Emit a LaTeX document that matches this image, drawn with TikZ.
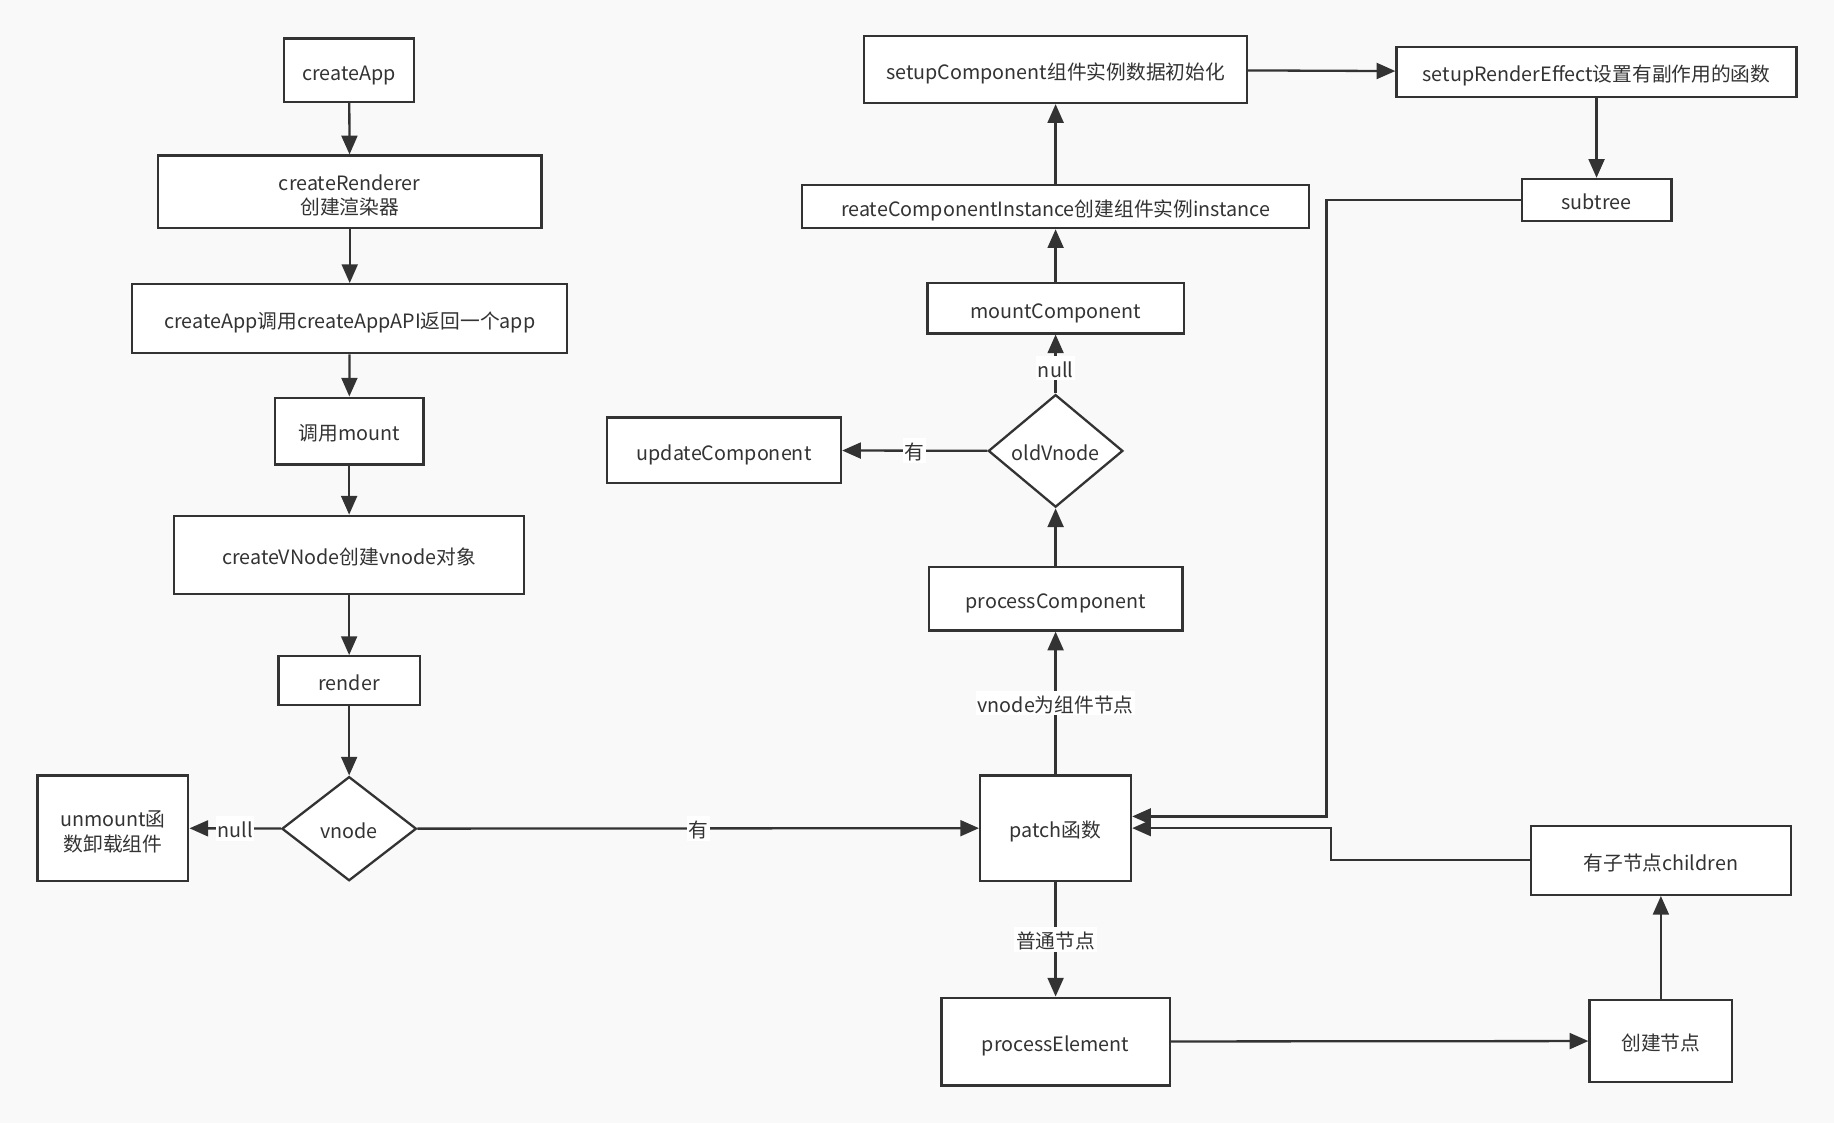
\documentclass[tikz,border=0pt]{standalone}
\usepackage{fontspec}
\setmainfont{Noto Sans CJK SC}
\usepackage{xcolor}
\definecolor{Ink}    {RGB}{51, 51, 51}
\definecolor{Paper}  {RGB}{249, 249, 249}
\usepackage{tikz}
\usetikzlibrary{shapes.geometric, arrows.meta, positioning}

\begin{document}
\begin{tikzpicture}[x=0.025cm, y=-0.025cm,
  >={Triangle[length=4mm, width=3.4mm]},
  font=\fontsize{12}{15}\selectfont\color{Ink},
  stepbox/.style = {draw=Ink, fill=white, line width=1.4pt, inner sep=0pt,
                    align=center, text height=1.35em, text depth=0.15em},
  twoline/.style = {text height=2.95em, text depth=0.15em},
  choice/.style  = {diamond, draw=Ink, fill=white, line width=1.4pt,
                    inner sep=0pt, minimum width=2.875cm, minimum height=2.225cm,
                    text height=1.35em, text depth=0.15em},
  flow/.style    = {->, draw=Ink, line width=1.4pt},
  cond/.style    = {fill=white, inner sep=1pt, text height=1.2em, text depth=0.1em}
]
  %% paper
  \fill[Paper] (0,0) rectangle (1568,960);
  \useasboundingbox (0,0) rectangle (1568,960);

  %% left column: app creation
  \node[stepbox, minimum width=2.775cm, minimum height=1.35cm]
    (createApp) at (298.5,60) {createApp};
  \node[stepbox, twoline, minimum width=8.2cm, minimum height=1.55cm]
    (renderer) at (299,164) {createRenderer\\创建渲染器};
  \node[stepbox, minimum width=9.3cm, minimum height=1.475cm]
    (appAPI) at (299,272.5) {createApp调用createAppAPI返回一个app};
  \node[stepbox, minimum width=3.175cm, minimum height=1.425cm]
    (mount) at (298.5,368.5) {调用mount};
  \node[stepbox, minimum width=7.475cm, minimum height=1.675cm]
    (createVNode) at (298.5,474.5) {createVNode创建vnode对象};
  \node[stepbox, minimum width=3.025cm, minimum height=1.05cm]
    (render) at (298.5,582) {render};
  \node[choice] (vnode) at (298.5,708.5) {vnode};
  \node[stepbox, twoline, minimum width=3.225cm, minimum height=2.25cm]
    (unmount) at (96.5,708) {unmount函\\数卸载组件};

  %% middle column: patch
  \node[stepbox, minimum width=8.175cm, minimum height=1.425cm]
    (setupComp) at (902.5,59.5) {setupComponent组件实例数据初始化};
  \node[stepbox, minimum width=10.825cm, minimum height=0.925cm]
    (instance) at (902.5,176.5) {reateComponentInstance创建组件实例instance};
  \node[stepbox, minimum width=5.475cm, minimum height=1.075cm]
    (mountComp) at (902.5,263.5) {mountComponent};
  \node[choice] (oldVnode) at (902.5,385.5) {oldVnode};
  \node[stepbox, minimum width=5.0cm, minimum height=1.4cm]
    (updateComp) at (619,385) {updateComponent};
  \node[stepbox, minimum width=5.425cm, minimum height=1.35cm]
    (processComp) at (902.5,512) {processComponent};
  \node[stepbox, minimum width=3.225cm, minimum height=2.25cm]
    (patch) at (902.5,708) {patch函数};
  \node[stepbox, minimum width=4.875cm, minimum height=1.875cm]
    (processElem) at (902.5,890.5) {processElement};

  %% right column
  \node[stepbox, minimum width=8.55cm, minimum height=1.075cm]
    (renderEffect) at (1365,61.5) {setupRenderEffect设置有副作用的函数};
  \node[stepbox, minimum width=3.2cm, minimum height=0.9cm]
    (subtree) at (1365,171) {subtree};
  \node[stepbox, minimum width=5.55cm, minimum height=1.475cm]
    (children) at (1420,735.5) {有子节点children};
  \node[stepbox, minimum width=3.05cm, minimum height=1.75cm]
    (createNode) at (1420,890) {创建节点};

  \coordinate (treeBend)  at (1134,698);
  \coordinate (childBend) at (1138,708);

  %% connectors
  \draw[flow] (createApp) -- (renderer);
  \draw[flow] (renderer) -- (appAPI);
  \draw[flow] (appAPI) -- (mount);
  \draw[flow] (mount) -- (createVNode);
  \draw[flow] (createVNode) -- (render);
  \draw[flow] (render) -- (vnode);
  \draw[flow] (vnode) -- node[cond]{null} (unmount);
  \draw[flow] (vnode) -- node[cond]{有} (patch);

  \draw[flow] (patch) -- node[cond]{vnode为组件节点} (processComp);
  \draw[flow] (processComp) -- (oldVnode);
  \draw[flow] (oldVnode) -- node[cond, pos=0.43]{null} (mountComp);
  \draw[flow] (oldVnode) -- node[cond]{有} (updateComp);
  \draw[flow] (mountComp) -- (instance);
  \draw[flow] (instance) -- (setupComp);
  \draw[flow] (setupComp) -- (renderEffect);
  \draw[flow] (renderEffect) -- (subtree);
  \draw[flow] (subtree.west) -| (treeBend) -- (treeBend -| patch.east);

  \draw[flow] (patch) -- node[cond]{普通节点} (processElem);
  \draw[flow] (processElem) -- (createNode);
  \draw[flow] (createNode) -- (children);
  \draw[flow] (children.west) -| (childBend) -- (patch.east);
\end{tikzpicture}
\end{document}
